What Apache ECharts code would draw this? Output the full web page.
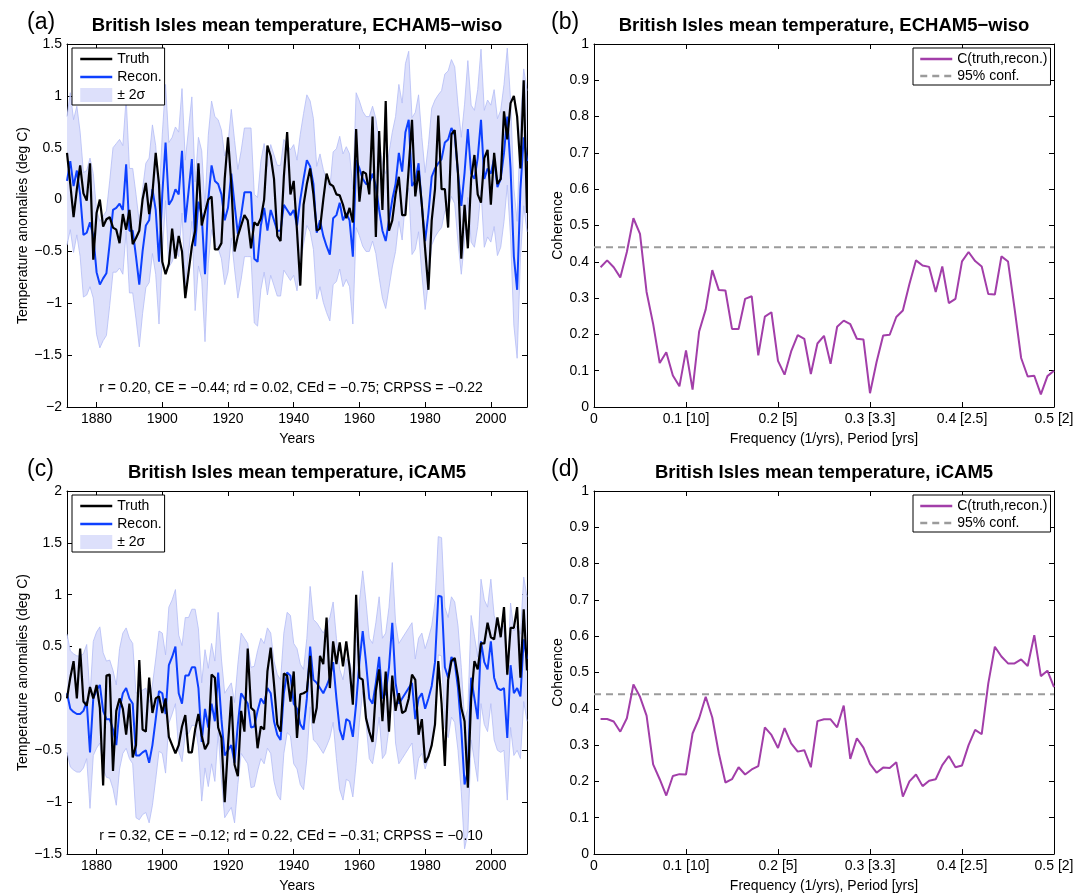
<!DOCTYPE html>
<html>
<head>
<meta charset="utf-8">
<script src="https://cdn.jsdelivr.net/npm/echarts@6/dist/echarts.min.js"></script>
<style>
  html, body { margin: 0; padding: 0; background: #fff; }
  #main { width: 1091px; height: 894px; }
</style>
</head>
<body>
<div id="main"></div>
<script>
// ---- data ----
var years = [];
for (var yr = 1871; yr <= 2011; yr++) years.push(yr);
var yearTicks = [1880, 1900, 1920, 1940, 1960, 1980, 2000];

// (a) ECHAM5-wiso
var truthA = [
  0.45, 0.15, -0.17, 0.1, 0.33, 0.06, -0.01, 0.35, -0.58, -0.13,
  0.0, -0.26, -0.19, -0.17, -0.27, -0.29, -0.42, -0.14, -0.29, -0.1,
  -0.43, -0.37, -0.3, 0.0, 0.16, -0.14, 0.06, 0.45, 0.15, -0.6,
  -0.72, -0.62, -0.28, -0.57, -0.35, -0.5, -0.95, -0.7, -0.45, -0.3,
  0.35, -0.25, -0.12, 0.0, 0.03, -0.48, -0.48, -0.42, 0.2, 0.6,
  0.15, -0.5, -0.35, -0.25, -0.15, -0.2, -0.47, -0.22, -0.25, -0.18,
  0.0, 0.52, 0.42, 0.2, -0.35, -0.4, 0.22, 0.65, 0.05, 0.18,
  -0.3, -0.83, -0.05, 0.15, 0.3, 0.05, -0.3, -0.28, 0.0, 0.25,
  0.15, 0.13, 0.05, 0.04, -0.05, -0.18, -0.08, -0.22, 0.68, -0.02,
  0.27, 0.25, 0.05, 0.8, -0.36, 0.66, -0.1, 0.95, -0.3, -0.2,
  0.05, 0.22, -0.15, -0.15, 0.3, 0.77, 0.03, 0.28, -0.05, -0.48,
  -0.87, -0.2, 0.1, 0.81, 0.1, 0.1, -0.27, 0.63, 0.67, 0.25,
  -0.57, -0.05, -0.47, 0.2, 0.43, 0.05, -0.03, 0.4, 0.48, -0.05,
  0.45, 0.15, 0.2, 0.85, 0.58, 0.93, 1.0, 0.8, 0.3, 1.15,
  -0.13
];
var reconA = [
  0.18, 0.37, 0.13, 0.28, 0.05, -0.34, -0.32, -0.22, -0.35, -0.7,
  -0.82, -0.76, -0.71, -0.42, -0.1, -0.08, -0.04, -0.1, 0.34, -0.3,
  -0.3, -0.55, -0.82, -0.5, -0.25, -0.2, 0.1, -0.1, -0.6, 0.05,
  0.55, -0.05, 0.0, 0.1, 0.05, 0.47, -0.22, 0.08, 0.39, -0.45,
  -0.02, -0.15, -0.72, 0.0, 0.33, 0.18, 0.15, 0.05, -0.2, -0.08,
  0.25, -0.05, -0.33, -0.15, 0.07, 0.07, 0.07, -0.57, -0.6, -0.25,
  -0.08, -0.3, -0.1, -0.2, -0.3, -0.3, -0.05, -0.1, -0.15, -0.1,
  -0.25, 0.0, 0.2, 0.38, 0.32, 0.15, -0.32, -0.2, -0.35, -0.45,
  -0.53, -0.18, -0.15, -0.03, -0.2, -0.13, -0.2, -0.55, 0.38, 0.3,
  0.2, 0.15, 0.15, 0.25, 0.13, -0.1, -0.3, -0.4, -0.2, 0.0,
  0.15, 0.45, 0.27, 0.65, 0.77, 0.13, 0.18, 0.35, -0.06, -0.4,
  -0.13, 0.22, 0.3, 0.35, 0.39, 0.55, 0.58, 0.69, 0.62, 0.25,
  -0.06, 0.26, 0.68, 0.25, 0.2, 0.4, 0.77, 0.2, 0.3, 0.25,
  0.4, 0.12, 0.2, 0.45, 0.8, 0.3, -0.55, -0.87, 0.1, 0.6,
  0.37
];
var twoSigmaA = [
  0.62, 0.66, 0.64, 0.62, 0.6, 0.6, 0.6, 0.62, 0.6, 0.6,
  0.61, 0.6, 0.6, 0.6, 0.6, 0.62, 0.62, 0.62, 0.64, 0.6,
  0.6, 0.6, 0.6, 0.6, 0.6, 0.6, 0.62, 0.62, 0.6, 0.58,
  0.56, 0.6, 0.6, 0.6, 0.6, 0.6, 0.6, 0.6, 0.6, 0.62,
  0.62, 0.62, 0.65, 0.62, 0.62, 0.62, 0.62, 0.62, 0.62, 0.62,
  0.62, 0.62, 0.62, 0.62, 0.62, 0.62, 0.62, 0.62, 0.62, 0.62,
  0.62, 0.62, 0.63, 0.63, 0.63, 0.63, 0.63, 0.63, 0.63, 0.63,
  0.63, 0.63, 0.63, 0.63, 0.63, 0.63, 0.64, 0.64, 0.64, 0.64,
  0.64, 0.64, 0.64, 0.64, 0.64, 0.64, 0.64, 0.65, 0.65, 0.65,
  0.65, 0.65, 0.65, 0.65, 0.65, 0.65, 0.65, 0.65, 0.65, 0.65,
  0.65, 0.66, 0.66, 0.66, 0.66, 0.66, 0.66, 0.66, 0.66, 0.66,
  0.66, 0.66, 0.66, 0.66, 0.66, 0.66, 0.66, 0.66, 0.66, 0.66,
  0.66, 0.66, 0.66, 0.66, 0.66, 0.66, 0.68, 0.66, 0.66, 0.66,
  0.66, 0.66, 0.66, 0.66, 0.66, 0.66, 0.66, 0.66, 0.66, 0.66,
  0.68
];

// (c) iCAM5
var truthC = [
  0.0, 0.2, 0.36, 0.0, 0.48, -0.03, -0.07, 0.11, 0.0, 0.13,
  -0.09, -0.84, 0.22, 0.23, -0.7, -0.12, 0.0, -0.1, -0.35, -0.05,
  -0.57, -0.45, 0.37, -0.3, -0.32, 0.2, -0.14, 0.0, 0.02, -0.14,
  0.0, -0.37, -0.45, -0.53, -0.45, -0.27, -0.16, -0.52, -0.52, -0.3,
  -0.15, -0.36, -0.49, -0.43, 0.23, 0.2, -0.28, -0.38, -1.0, -0.45,
  0.02, -0.64, -0.75, -0.12, -0.32, 0.48, -0.09, -0.12, -0.48, -0.27,
  -0.3, 0.26, 0.49, 0.14, -0.25, -0.32, 0.24, 0.22, -0.03, 0.26,
  -0.38, 0.04, 0.05, 0.07, 0.41, -0.24, -0.09, 0.41, 0.33, 0.78,
  0.1, 0.55, 0.33, 0.54, 0.31, 0.55, 0.3, -0.06, 1.0, 0.2,
  0.18, -0.19, -0.32, -0.42, 0.07, 0.28, -0.22, 0.26, -0.32, 0.22,
  -0.12, 0.05, -0.14, -0.12, 0.0, 0.23, 0.18, -0.35, -0.2, -0.62,
  -0.56, -0.45, -0.25, 0.36, -0.05, -0.65, 0.18, 0.36, 0.39, 0.2,
  -0.09, -0.22, -0.86, 0.0, 0.36, 0.28, 0.53, 0.53, 0.73, 0.59,
  0.57, 0.78, 0.59, 0.88, 0.23, 0.68, 0.68, 0.88, 0.2, 0.86,
  0.27
];
var reconC = [
  0.05, -0.1, -0.13, -0.15, -0.15, -0.12, -0.03, -0.52, 0.0, 0.08,
  0.13, -0.12, -0.2, -0.2, -0.3, -0.45, -0.1, 0.05, 0.1, 0.0,
  -0.05, -0.55, -0.55, -0.52, -0.5, -0.62, -0.45, -0.2, 0.07, 0.05,
  -0.15, 0.32, 0.4, 0.5, 0.05, -0.05, 0.22, 0.22, 0.3, 0.3,
  0.1, -0.42, -0.1, -0.28, -0.05, -0.22, 0.25, -0.2, -0.55, -0.5,
  -0.45, -0.62, -0.25, 0.05, 0.0, -0.05, -0.28, -0.27, -0.12, 0.0,
  -0.05, 0.1, 0.05, -0.22, -0.35, -0.4, 0.05, 0.25, 0.22, -0.05,
  -0.1, -0.25, -0.3, 0.0, 0.5, 0.18, 0.15, 0.1, 0.05, 0.12,
  0.2, 0.35, 0.0, -0.3, -0.4, -0.2, -0.22, -0.37, -0.05, 0.35,
  0.65, 0.35, 0.0, -0.05, 0.15, 0.4, 0.0, 0.05, 0.3, 0.73,
  0.15, -0.05, 0.0, 0.05, 0.1, 0.15, -0.2, 0.0, 0.05, -0.1,
  0.0, 0.12, 0.35, 0.99, 0.98, 0.3, 0.2, 0.4, 0.35, 0.1,
  -0.3, -0.83, -0.7, 0.2, 0.0, -0.2, 0.55, 0.35, 0.28, 0.55,
  0.2, 0.1, 0.08, 0.1, -0.38, 0.32, 0.05, 0.1, 0.02, 0.57,
  0.38
];
var twoSigmaC = [
  0.57, 0.56, 0.56, 0.56, 0.56, 0.55, 0.55, 0.54, 0.55, 0.56,
  0.56, 0.56, 0.56, 0.57, 0.57, 0.58, 0.58, 0.58, 0.58, 0.58,
  0.58, 0.6, 0.62, 0.6, 0.6, 0.58, 0.58, 0.58, 0.58, 0.58,
  0.57, 0.56, 0.55, 0.55, 0.56, 0.56, 0.56, 0.56, 0.56, 0.56,
  0.57, 0.57, 0.57, 0.57, 0.58, 0.58, 0.58, 0.58, 0.6, 0.6,
  0.6, 0.58, 0.58, 0.58, 0.58, 0.58, 0.58, 0.58, 0.58, 0.58,
  0.58, 0.58, 0.58, 0.58, 0.58, 0.58, 0.58, 0.58, 0.58, 0.58,
  0.58, 0.58, 0.58, 0.58, 0.58, 0.58, 0.58, 0.58, 0.58, 0.58,
  0.58, 0.58, 0.58, 0.58, 0.58, 0.58, 0.58, 0.58, 0.58, 0.58,
  0.58, 0.58, 0.58, 0.58, 0.58, 0.58, 0.58, 0.58, 0.58, 0.58,
  0.58, 0.58, 0.58, 0.58, 0.58, 0.58, 0.58, 0.58, 0.58, 0.58,
  0.58, 0.58, 0.58, 0.57, 0.57, 0.58, 0.58, 0.58, 0.58, 0.6,
  0.6, 0.62, 0.6, 0.6, 0.6, 0.6, 0.6, 0.6, 0.6, 0.6,
  0.6, 0.6, 0.6, 0.6, 0.6, 0.6, 0.6, 0.6, 0.6, 0.6,
  0.6
];

// coherence spectra, frequencies k/140 (1/yrs)
var freqs = [];
for (var k = 1; k <= 70; k++) freqs.push(k / 140);
var freqTickLabels = ['0', '0.1 [10]', '0.2 [5]', '0.3 [3.3]', '0.4 [2.5]', '0.5 [2]'];
var cohB = [
  0.385, 0.404, 0.385, 0.357, 0.427, 0.520, 0.477, 0.317, 0.229, 0.121,
  0.151, 0.087, 0.057, 0.156, 0.048, 0.208, 0.269, 0.377, 0.322, 0.321,
  0.215, 0.215, 0.298, 0.305, 0.142, 0.249, 0.261, 0.127, 0.089, 0.153,
  0.198, 0.188, 0.091, 0.175, 0.196, 0.119, 0.221, 0.238, 0.228, 0.188,
  0.186, 0.038, 0.124, 0.197, 0.199, 0.248, 0.266, 0.339, 0.404, 0.390,
  0.386, 0.317, 0.387, 0.286, 0.298, 0.401, 0.427, 0.402, 0.387, 0.311,
  0.310, 0.415, 0.401, 0.271, 0.135, 0.084, 0.086, 0.035, 0.085, 0.100
];
var cohD = [
  0.372, 0.372, 0.365, 0.337, 0.374, 0.467, 0.433, 0.381, 0.247, 0.206,
  0.161, 0.215, 0.220, 0.219, 0.332, 0.374, 0.433, 0.376, 0.277, 0.197,
  0.206, 0.239, 0.219, 0.233, 0.242, 0.349, 0.328, 0.292, 0.347, 0.305,
  0.282, 0.286, 0.239, 0.366, 0.371, 0.371, 0.349, 0.409, 0.262, 0.319,
  0.293, 0.248, 0.224, 0.238, 0.237, 0.253, 0.158, 0.200, 0.219, 0.187,
  0.202, 0.206, 0.245, 0.270, 0.239, 0.244, 0.300, 0.342, 0.330, 0.470,
  0.571, 0.544, 0.525, 0.525, 0.536, 0.518, 0.603, 0.490, 0.505, 0.460
];
var confB = 0.44;
var confD = 0.44;

// ---- styling ----
var FONT = '"Liberation Sans", Arial, Helvetica, sans-serif';
var BLUE = '#0d40ff';
var BAND_FILL = '#dde0fb';
var BAND_EDGE = '#b4bcf6';
var PURPLE = '#a23ea9';
var GREY = '#9b9b9b';
var PW = 460, PH = 363;

var grids = [], xAxes = [], yAxes = [], series = [], legends = [], titles = [];

function minusSign(v) {
  return String(v).replace('-', '\u2212');
}

function addPanel(left, top, xc, yc) {
  var g = grids.length;
  grids.push({left: left, top: top, width: PW, height: PH, containLabel: false});
  var line = {show: true, onZero: false, lineStyle: {color: '#000', width: 1}};
  var txt = {color: '#000', fontSize: 14, fontFamily: FONT};
  ['bottom', 'top'].forEach(function (pos) {
    var tick = {show: true, inside: true, length: 5, lineStyle: {color: '#000', width: 1}};
    var lab = {show: pos === 'bottom', color: '#000', fontSize: 14, fontFamily: FONT, margin: 5, formatter: xc.fmt};
    if (xc.ticks) { tick.customValues = xc.ticks; lab.customValues = xc.ticks; }
    xAxes.push({
      type: 'value', gridIndex: g, position: pos, min: xc.min, max: xc.max, interval: xc.interval,
      name: pos === 'bottom' ? xc.name : '', nameLocation: 'middle', nameGap: 25, nameTextStyle: txt,
      axisLine: line, axisTick: tick, axisLabel: lab, splitLine: {show: false}
    });
  });
  ['left', 'right'].forEach(function (pos) {
    yAxes.push({
      type: 'value', gridIndex: g, position: pos, min: yc.min, max: yc.max, interval: yc.interval,
      name: pos === 'left' ? yc.name : '', nameLocation: 'middle', nameGap: yc.gap, nameRotate: 90,
      nameTextStyle: txt,
      axisLine: line,
      axisTick: {show: true, inside: true, length: 5, lineStyle: {color: '#000', width: 1}},
      axisLabel: {show: pos === 'left', color: '#000', fontSize: 14, fontFamily: FONT, margin: 5, formatter: minusSign},
      splitLine: {show: false}
    });
  });
  return g;
}

function addTitles(label, labelLeft, title, centerX, top) {
  titles.push({text: label, left: labelLeft, top: top - 5, padding: 0,
    textStyle: {fontSize: 23, fontWeight: 'normal', color: '#000', fontFamily: FONT}});
  titles.push({text: title, left: centerX, top: top, padding: 0, textAlign: 'center', textVerticalAlign: 'top',
    textStyle: {fontSize: 18.5, fontWeight: 'bold', color: '#000', fontFamily: FONT}});
}

// the ±2σ envelope as one filled polygon, placed through the axis scales
function bandRenderer(lo, hi) {
  return function (params, api) {
    if (params.dataIndex !== 0) return null;
    var upper = [], lower = [];
    for (var i = 0; i < years.length; i++) {
      upper.push(api.coord([years[i], hi[i]]));
      lower.push(api.coord([years[i], lo[i]]));
    }
    return {
      type: 'group',
      children: [
        {type: 'polygon', shape: {points: upper.concat(lower.slice().reverse())},
          style: {fill: BAND_FILL, stroke: 'none'}},
        {type: 'polyline', shape: {points: upper}, style: {fill: 'none', stroke: BAND_EDGE, lineWidth: 0.8}},
        {type: 'polyline', shape: {points: lower}, style: {fill: 'none', stroke: BAND_EDGE, lineWidth: 0.8}}
      ]
    };
  };
}

function timePanel(left, top, ymin, ymax, truth, recon, twoSig, stat, statTop) {
  var g = addPanel(left, top,
    {min: 1871, max: 2011, ticks: yearTicks, name: 'Years', fmt: function (v) { return String(v); }},
    {min: ymin, max: ymax, interval: 0.5, name: 'Temperature anomalies (deg C)', gap: 36});
  var lo = recon.map(function (r, i) { return +(r - twoSig[i]).toFixed(3); });
  var hi = recon.map(function (r, i) { return +(r + twoSig[i]).toFixed(3); });
  series.push({
    name: '\u00b1 2\u03c3', type: 'custom', xAxisIndex: 2 * g, yAxisIndex: 2 * g, z: 1, silent: true,
    itemStyle: {color: BAND_FILL},
    encode: {x: 0, y: [1, 2]},
    data: years.map(function (y, i) { return [y, lo[i], hi[i]]; }),
    renderItem: bandRenderer(lo, hi)
  });
  var common = {type: 'line', xAxisIndex: 2 * g, yAxisIndex: 2 * g, symbol: 'none', silent: true, animation: false};
  series.push(Object.assign({}, common, {
    name: 'Recon.', z: 3, itemStyle: {color: BLUE}, lineStyle: {color: BLUE, width: 2},
    data: years.map(function (y, i) { return [y, recon[i]]; })
  }));
  series.push(Object.assign({}, common, {
    name: 'Truth', z: 4, itemStyle: {color: '#000'}, lineStyle: {color: '#000', width: 2.2},
    data: years.map(function (y, i) { return [y, truth[i]]; })
  }));
  legends.push({
    orient: 'vertical', left: 72, top: top + 4, padding: [4, 3, 3, 7], itemGap: 4,
    itemWidth: 32, itemHeight: 14, borderColor: '#000', borderWidth: 1, borderRadius: 0,
    backgroundColor: '#fff', selectedMode: false, itemStyle: {opacity: 0},
    lineStyle: {width: 2.5},
    textStyle: {color: '#000', fontSize: 14, fontFamily: FONT},
    data: ['Truth', 'Recon.',
      {name: '\u00b1 2\u03c3', icon: 'rect', itemStyle: {color: BAND_FILL, opacity: 1, borderWidth: 0}}]
  });
  titles.push({text: stat, left: 291, top: statTop, padding: 0, textAlign: 'center', textVerticalAlign: 'top',
    textStyle: {fontSize: 14, fontWeight: 'normal', color: '#000', fontFamily: FONT}});
}

function cohPanel(left, top, coh, conf) {
  var g = addPanel(left, top,
    {min: 0, max: 0.5, interval: 0.1, name: 'Frequency (1/yrs), Period [yrs]',
      fmt: function (v) { return freqTickLabels[Math.round(v * 10)]; }},
    {min: 0, max: 1, interval: 0.1, name: 'Coherence', gap: 29});
  var common = {type: 'line', xAxisIndex: 2 * g, yAxisIndex: 2 * g, symbol: 'none', silent: true, animation: false};
  series.push(Object.assign({}, common, {
    name: '95% conf.', z: 2, itemStyle: {color: GREY},
    lineStyle: {color: GREY, width: 2, type: [7, 5]},
    data: [[0, conf], [0.5, conf]]
  }));
  series.push(Object.assign({}, common, {
    name: 'C(truth,recon.)', z: 3, itemStyle: {color: PURPLE},
    lineStyle: {color: PURPLE, width: 2},
    data: freqs.map(function (f, i) { return [f, coh[i]]; })
  }));
  legends.push({
    orient: 'vertical', left: 913, top: top + 4, padding: [4, 3, 2, 6], itemGap: 3,
    itemWidth: 32, itemHeight: 14, borderColor: '#000', borderWidth: 1, borderRadius: 0,
    backgroundColor: '#fff', selectedMode: false, itemStyle: {opacity: 0},
    lineStyle: {width: 2.5},
    textStyle: {color: '#000', fontSize: 14, fontFamily: FONT},
    data: ['C(truth,recon.)', '95% conf.']
  });
}

addTitles('(a)', 27, 'British Isles mean temperature, ECHAM5\u2212wiso', 297, 16);
addTitles('(b)', 551, 'British Isles mean temperature, ECHAM5\u2212wiso', 824, 16);
addTitles('(c)', 27, 'British Isles mean temperature, iCAM5', 297, 463);
addTitles('(d)', 551, 'British Isles mean temperature, iCAM5', 824, 463);

timePanel(67, 44, -2, 1.5, truthA, reconA, twoSigmaA,
  'r = 0.20, CE = \u22120.44; rd = 0.02, CEd = \u22120.75; CRPSS = \u22120.22', 381);
cohPanel(594, 44, cohB, confB);
timePanel(67, 491, -1.5, 2, truthC, reconC, twoSigmaC,
  'r = 0.32, CE = \u22120.12; rd = 0.22, CEd = \u22120.31; CRPSS = \u22120.10', 829);
cohPanel(594, 491, cohD, confD);

var myChart = echarts.init(document.getElementById('main'));
var option = {
  backgroundColor: '#fff',
  animation: false,
  title: titles,
  legend: legends,
  grid: grids,
  xAxis: xAxes,
  yAxis: yAxes,
  series: series
};
myChart.setOption(option, true);
</script>
</body>
</html>
